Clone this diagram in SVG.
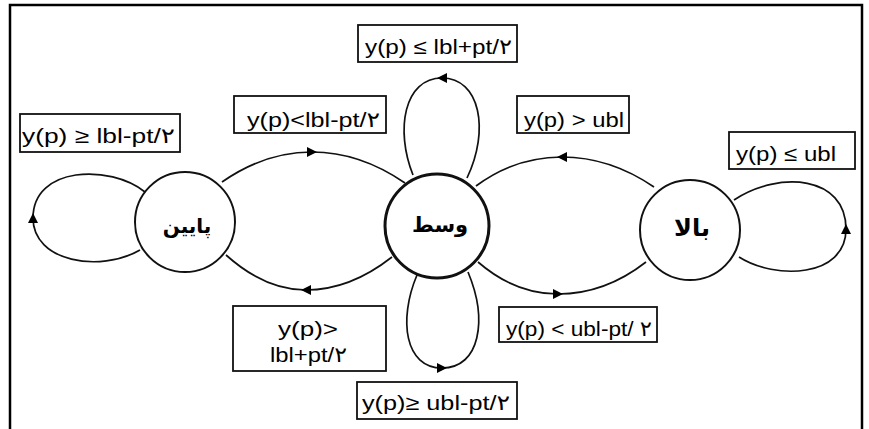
<svg xmlns="http://www.w3.org/2000/svg" width="869" height="429" viewBox="0 0 869 429">
<defs>
<style>
.frame{fill:none;stroke:#000;stroke-width:2.5}
.node{fill:#fff;stroke:#111;stroke-width:2}
.node.mid{stroke-width:3}
.edge{fill:none;stroke:#111;stroke-width:1.7;marker-mid:url(#arr)}
.box{fill:#fff;stroke:#111;stroke-width:1.8}
.lbl{font-family:"Liberation Sans","DejaVu Sans",sans-serif;font-size:21px;fill:#000}
.nlbl{font-family:"DejaVu Sans",sans-serif;font-weight:bold;font-size:22px;fill:#000;text-anchor:middle}
</style>
<marker id="arr" viewBox="0 0 10 10" refX="5" refY="5" markerWidth="11" markerHeight="10" markerUnits="userSpaceOnUse" orient="auto">
<path d="M0,0 L10,5 L0,10 z" fill="#000"/>
</marker>
</defs>
<rect width="869" height="429" fill="#fff"/>
<path class="frame" d="M10,432 V5 H862 V432"/>

<g id="connectors">
<path class="edge" d="M222,182 Q265,152 312,152 Q360,152 405,183"/>
<path class="edge" d="M392,257 Q350,290 306,290 Q265,290 226,255"/>
<path class="edge" d="M654,187 Q610,157 562,157 Q515,157 476,186"/>
<path class="edge" d="M478,262 Q515,294 558,294 Q605,294 646,262"/>
<path class="edge" d="M467,178 C490,130 480,78 442,78 C404,78 395,130 413,175"/>
<path class="edge" d="M417,275 C398,320 405,368 442,368 C480,368 488,320 468,272"/>
<path class="edge" d="M140,250 C100,273 33,262 33,218 C33,166 110,164 145,192"/>
<path class="edge" d="M739,257 C775,280 846,278 846,229 C846,176 780,170 734,200"/>
</g>

<g id="node-low">
<circle class="node" cx="185" cy="222" r="50"/>
<text class="nlbl" x="187" y="233" style="font-size:20px">پایین</text>
</g>
<g id="node-mid">
<circle class="node mid" cx="437" cy="226" r="52"/>
<text class="nlbl" x="440" y="232" style="font-size:21px">وسط</text>
</g>
<g id="node-high">
<circle class="node" cx="690" cy="230" r="50"/>
<text class="nlbl" x="692" y="236" style="font-size:24px">بالا</text>
</g>

<g id="labels">
<rect class="box" x="20" y="114" width="160" height="38"/>
<text class="lbl" x="22" y="143" textLength="153" lengthAdjust="spacingAndGlyphs">y(p) ≥ lbl-pt/۲</text>
<rect class="box" x="234" y="96" width="152" height="37"/>
<text class="lbl" x="247" y="127" textLength="133" lengthAdjust="spacingAndGlyphs">y(p)&lt;lbl-pt/۲</text>
<rect class="box" x="358" y="25" width="159" height="37"/>
<text class="lbl" x="365" y="54" textLength="147" lengthAdjust="spacingAndGlyphs">y(p) ≤ lbl+pt/۲</text>
<rect class="box" x="517" y="96" width="112" height="37"/>
<text class="lbl" x="524" y="127" textLength="100" lengthAdjust="spacingAndGlyphs">y(p) &gt; ubl</text>
<rect class="box" x="729" y="132" width="126" height="37"/>
<text class="lbl" x="736" y="161" textLength="100" lengthAdjust="spacingAndGlyphs">y(p) ≤ ubl</text>
<rect class="box" x="233" y="306" width="153" height="65"/>
<text class="lbl" x="278" y="336" textLength="60" lengthAdjust="spacingAndGlyphs">y(p)&gt;</text>
<text class="lbl" x="270" y="362" textLength="77" lengthAdjust="spacingAndGlyphs">lbl+pt/۲</text>
<rect class="box" x="357" y="382" width="160" height="37"/>
<text class="lbl" x="362" y="410" textLength="148" lengthAdjust="spacingAndGlyphs">y(p)≥ ubl-pt/۲</text>
<rect class="box" x="499" y="307" width="158" height="35"/>
<text class="lbl" x="506" y="336" textLength="146" lengthAdjust="spacingAndGlyphs">y(p) &lt; ubl-pt/ ۲</text>
</g>
</svg>
